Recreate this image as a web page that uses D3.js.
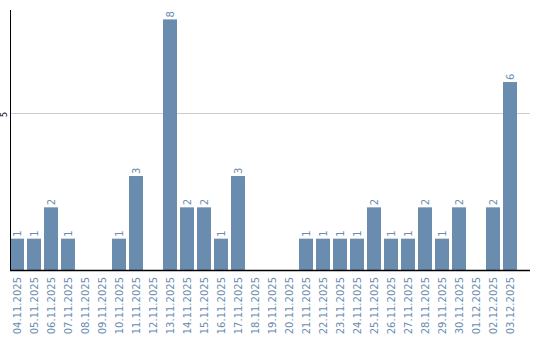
<!DOCTYPE html>
<html><head><meta charset="utf-8">
<script src="https://cdn.jsdelivr.net/npm/d3@7"></script>
<style>body{margin:0;background:#fff}svg{display:block}</style>
</head><body>
<script>
const dates = ["04.11.2025","05.11.2025","06.11.2025","07.11.2025","08.11.2025","09.11.2025","10.11.2025","11.11.2025","12.11.2025","13.11.2025","14.11.2025","15.11.2025","16.11.2025","17.11.2025","18.11.2025","19.11.2025","20.11.2025","21.11.2025","22.11.2025","23.11.2025","24.11.2025","25.11.2025","26.11.2025","27.11.2025","28.11.2025","29.11.2025","30.11.2025","01.12.2025","02.12.2025","03.12.2025"];
const counts = [1,1,2,1,0,0,1,3,0,8,2,2,1,3,0,0,0,1,1,1,1,2,1,1,2,1,2,0,2,6];
const yTicks = [5];

const W = 540, H = 340;
const svg = d3.select("body").append("svg").attr("width", W).attr("height", H);
const color = "#6a8caf";
const x = d3.scaleBand().domain(dates).range([10, 517]).paddingInner(3 / 17).paddingOuter(0);
const y = d3.scaleLinear().domain([0, 8.3]).range([270, 10]);

// grid
svg.selectAll("line.grid").data(yTicks).join("line")
  .attr("x1", 10).attr("x2", 530)
  .attr("y1", d => Math.round(y(d)) + 0.5).attr("y2", d => Math.round(y(d)) + 0.5)
  .attr("stroke", "#cccccc").attr("stroke-width", 1);
svg.selectAll("text.ytick").data(yTicks).join("text")
  .attr("transform", d => `translate(7,${y(d) + 1}) rotate(-90)`)
  .attr("text-anchor", "middle")
  .attr("font-family", "DejaVu Sans").attr("font-size", 8).attr("fill", "#000")
  .text(d => d);

// bars
svg.selectAll("rect.bar").data(dates).join("rect")
  .attr("x", d => x(d)).attr("width", x.bandwidth())
  .attr("y", (d, i) => y(counts[i])).attr("height", (d, i) => y(0) - y(counts[i]))
  .attr("fill", color);

// value labels
svg.selectAll("text.val").data(dates.filter((d, i) => counts[i] > 0)).join("text")
  .attr("transform", d => `translate(${x(d) + x.bandwidth() / 2 + 3.5},${y(counts[dates.indexOf(d)]) - 2}) rotate(-90)`)
  .attr("font-family", "DejaVu Sans").attr("font-size", 10).attr("fill", color)
  .text(d => counts[dates.indexOf(d)]);

// axes lines
svg.append("line").attr("x1", 10.5).attr("x2", 10.5).attr("y1", 10).attr("y2", 270)
  .attr("stroke", "#000").attr("stroke-width", 1);
svg.append("line").attr("x1", 10).attr("x2", 530).attr("y1", 270.5).attr("y2", 270.5)
  .attr("stroke", "#000").attr("stroke-width", 1.5);

// x labels
const xAxis = d3.axisBottom(x).tickSize(0).tickPadding(0);
const gx = svg.append("g").attr("transform", "translate(0,270)").call(xAxis);
gx.select(".domain").remove();
gx.selectAll("text")
  .attr("font-family", "DejaVu Sans").attr("font-size", 10).attr("fill", color)
  .attr("text-anchor", "end")
  .attr("dy", null).attr("y", 0)
  .attr("transform", "translate(3.5,7) rotate(-90)");
</script>
</body></html>
